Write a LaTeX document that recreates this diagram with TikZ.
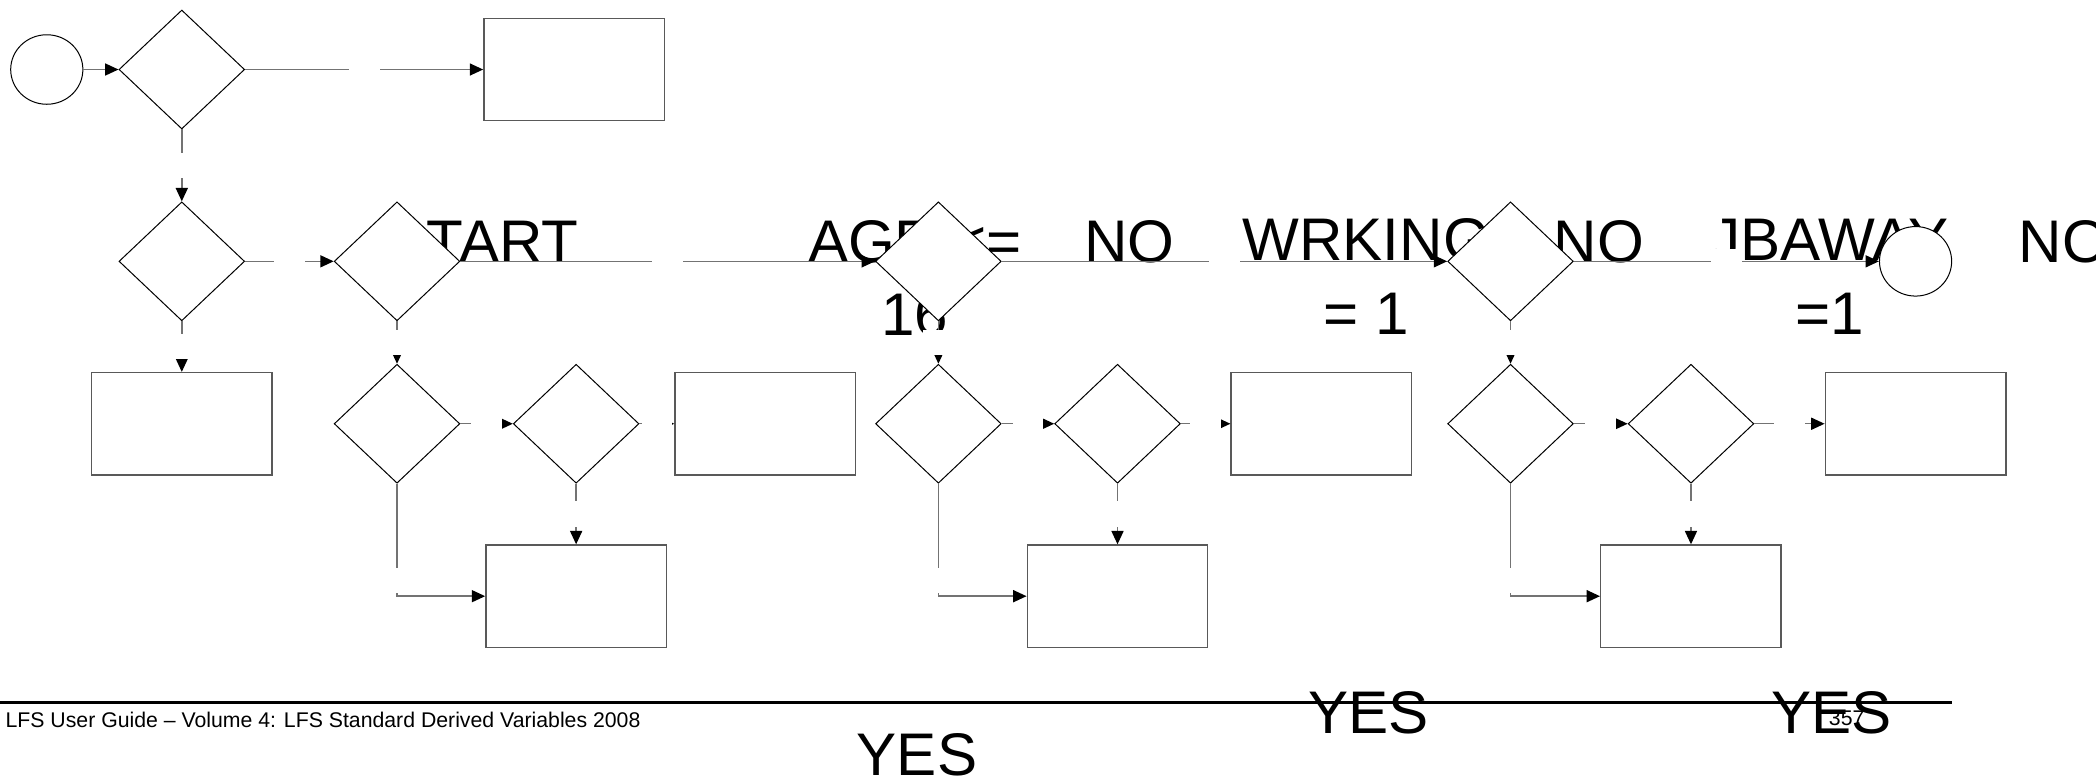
\documentclass[tikz,border=0pt]{standalone}
\usepackage{fontspec}
\setmainfont{Liberation Sans}
\usetikzlibrary{arrows.meta,shapes.geometric}
\newcommand{\bigtxt}{\fontsize{45}{55}\selectfont}
\newcommand{\smalltxt}{\fontsize{15.9}{19}\selectfont}

\begin{document}
\begin{tikzpicture}[x=1pt,y=-1pt,
    dec/.style={shape=diamond,draw=black,line width=0.75pt,fill=white,minimum width=94pt,minimum height=89pt,inner sep=0pt},
    proc/.style={rectangle,draw=black!65,line width=1.1pt,fill=white,minimum width=135pt,minimum height=76.5pt,inner sep=0pt},
    term/.style={ellipse,draw=black,line width=0.75pt,fill=white,minimum width=54pt,minimum height=52pt,inner sep=0pt},
    lbl/.style={font=\bigtxt,anchor=base,align=center,inner sep=0pt},
    lblbox/.style={fill=white,minimum width=23pt,minimum height=19pt,inner sep=0pt},
    flow/.style={draw=black!55,line width=1.1pt,-{Triangle[length=10pt,width=9pt,color=black]}}]
        \useasboundingbox (0,0) rectangle (1568,583);
        \node[lbl] (L1) at (361,196) {START};
        \node[lbl] (L2) at (684.5,251) {AGE <=\\16};
        \node[lbl] (L3) at (845,196) {NO};
        \node[lbl] (L4) at (1022,250) {WRKING\\= 1};
        \node[lbl] (L5) at (1196,196) {NO};
        \node[lbl] (L6) at (1368.5,250) {JBAWAY\\=1};
        \node[lbl] (L7) at (1544,196) {NO};
        \node[lbl] (Y1) at (686,580) {YES};
        \node[lbl] (Y2) at (1024,548.5) {YES};
        \node[lbl] (Y3) at (1370,548.5) {YES};
        \coordinate (F1) at (0,525.5);
        \coordinate (F2) at (1460.5,525.5);
        \draw[line width=1.7pt] (F1) -- (F2);
        \node[font=\smalltxt,anchor=base west,inner sep=0pt] (F3) at (4,544) {LFS User Guide -- Volume 4: LFS Standard Derived Variables 2008};
        \node[font=\smalltxt,anchor=base west,inner sep=0pt] (P1) at (1368,543) {357};
        \node[term] (A1) at (35,52) {};
        \node[dec] (A2) at (136,52) {};
        \node[proc] (A3) at (429.5,52) {};
        \node[dec] (B1) at (136,195.5) {};
        \node[dec] (B2) at (297,195.5) {};
        \node[dec] (B3) at (702,195.5) {};
        \node[dec] (B4) at (1130,195.5) {};
        \node[term] (B5) at (1433,195.5) {};
        \node[proc] (C1) at (136,317) {};
        \node[dec] (C2) at (297,317) {};
        \node[dec] (C3) at (431,317) {};
        \node[proc] (C4) at (572.5,317) {};
        \node[dec] (C5) at (702,317) {};
        \node[dec] (C6) at (836,317) {};
        \node[proc] (C7) at (988.5,317) {};
        \node[dec] (C8) at (1130,317) {};
        \node[dec] (C9) at (1265,317) {};
        \node[proc] (C10) at (1433,317) {};
        \node[proc] (D1) at (431,446) {};
        \node[proc] (D2) at (836,446) {};
        \node[proc] (D3) at (1265,446) {};
        \draw[flow] (A1) to (A2);
        \draw[flow] (A2) to node[lblbox] {} (A3);
        \draw[flow] (A2) to node[lblbox] {} (B1);
        \draw[flow] (B1) to node[lblbox] {} (B2);
        \draw[flow] (B1) to node[lblbox] {} (C1);
        \draw[flow] (B2) to node[lblbox] {} (B3);
        \draw[flow] (B2) to node[lblbox] {} (C2);
        \draw[flow] (C2) to node[lblbox] {} (C3);
        \draw[flow] (C3) to node[lblbox] {} (C4);
        \draw[flow] (C2) |- node[lblbox,pos=0.43] {} (D1);
        \draw[flow] (C3) to node[lblbox] {} (D1);
        \draw[flow] (B3) to node[lblbox] {} (B4);
        \draw[flow] (B3) to node[lblbox] {} (C5);
        \draw[flow] (C5) to node[lblbox] {} (C6);
        \draw[flow] (C6) to node[lblbox] {} (C7);
        \draw[flow] (C5) |- node[lblbox,pos=0.43] {} (D2);
        \draw[flow] (C6) to node[lblbox] {} (D2);
        \draw[flow] (B4) to node[lblbox] {} (B5);
        \draw[flow] (B4) to node[lblbox] {} (C8);
        \draw[flow] (C8) to node[lblbox] {} (C9);
        \draw[flow] (C9) to node[lblbox] {} (C10);
        \draw[flow] (C8) |- node[lblbox,pos=0.43] {} (D3);
        \draw[flow] (C9) to node[lblbox] {} (D3);
      \end{tikzpicture}
\end{document}
